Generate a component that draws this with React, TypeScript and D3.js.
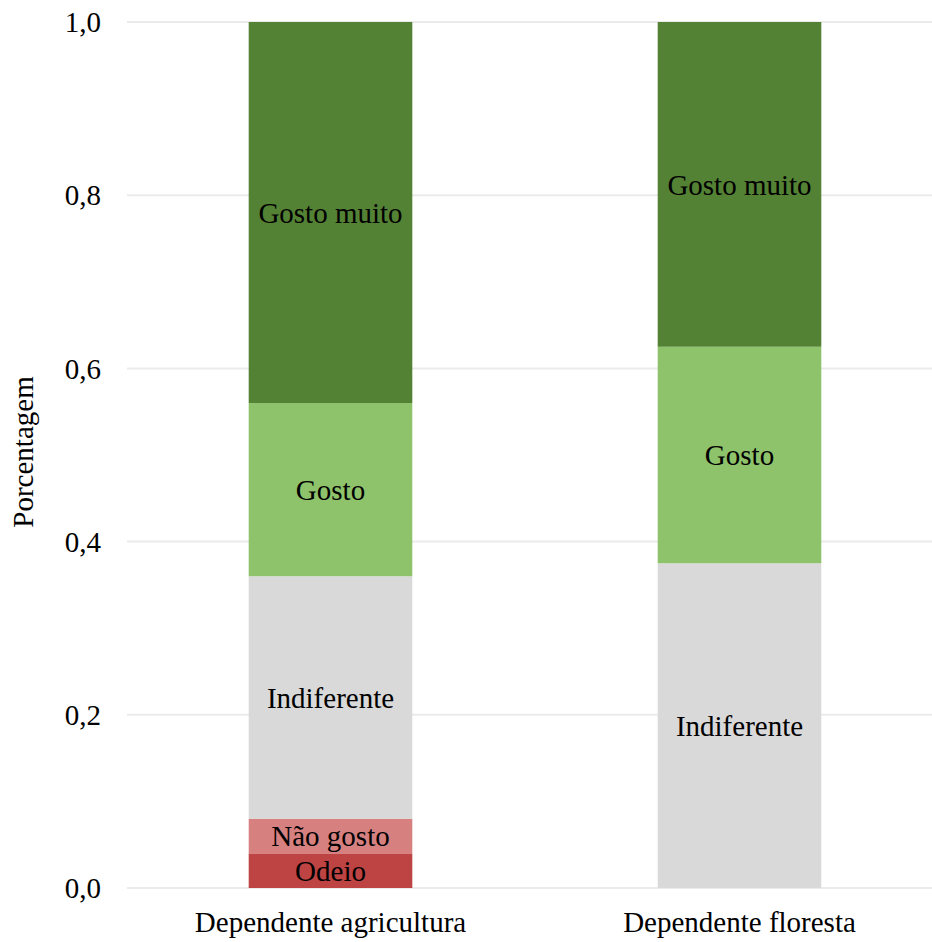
import React from "react";
import * as d3 from "d3";

// Groups along the x axis
const groups = ["Dependente agricultura", "Dependente floresta"];

// Response categories, bottom to top
const categories = ["Odeio", "Não gosto", "Indiferente", "Gosto", "Gosto muito"];

// Share of each category per group (sums to 1)
const agricultura = [0.04, 0.04, 0.28, 0.2, 0.44];
const floresta = [0, 0, 0.375, 0.25, 0.375];

const yTicks = [0, 0.2, 0.4, 0.6, 0.8, 1.0];

const colors = ["#BE4343", "#D68080", "#D9D9D9", "#8EC36B", "#548235"];

const W = 932;
const H = 942;
const FONT = "Liberation Serif, Times New Roman, serif";

export default function App() {
  const y = d3.scaleLinear().domain([0, 1]).range([888, 22]);
  const x = d3.scaleBand<string>().domain(groups).range([126, 944]).paddingInner(0.6).paddingOuter(0.3);

  const rows = [agricultura, floresta].map((vals, gi) => {
    const obj: Record<string, number | string> = { group: groups[gi] };
    categories.forEach((c, i) => (obj[c] = vals[i]));
    return obj;
  });
  const stacked = d3.stack<Record<string, number | string>>().keys(categories)(rows as any);
  const fmt = (v: number) => v.toFixed(1).replace(".", ",");

  return (
    <svg width={W} height={H} style={{ position: "absolute", left: 0, top: 0, background: "#fff" }} fontFamily={FONT}>
      {yTicks.map((t) => (
        <g key={t}>
          <line x1={127} x2={W} y1={y(t)} y2={y(t)} stroke="#EBEBEB" strokeWidth={2} />
          <text x={101} y={y(t)} dy="0.35em" textAnchor="end" fontSize={29} fill="#000">
            {fmt(t)}
          </text>
        </g>
      ))}
      {stacked.map((layer, li) =>
        layer.map((d, gi) => {
          const v = d[1] - d[0];
          if (v <= 0) return null;
          const gx = x(groups[gi])!;
          const bw = x.bandwidth();
          return (
            <g key={`${li}-${gi}`}>
              <rect x={gx} y={y(d[1])} width={bw} height={y(d[0]) - y(d[1])} fill={colors[li]} />
              <text
                x={gx + bw / 2}
                y={y((d[0] + d[1]) / 2)}
                dy="0.35em"
                textAnchor="middle"
                fontSize={29}
                fill="#000"
              >
                {categories[li]}
              </text>
            </g>
          );
        })
      )}
      {groups.map((g) => (
        <text key={g} x={x(g)! + x.bandwidth() / 2} y={922} dy="0.35em" textAnchor="middle" fontSize={29} fill="#000">
          {g}
        </text>
      ))}
      <text transform={`translate(23,452) rotate(-90)`} textAnchor="middle" dy="0.35em" fontSize={29} fill="#000">
        Porcentagem
      </text>
    </svg>
  );
}
